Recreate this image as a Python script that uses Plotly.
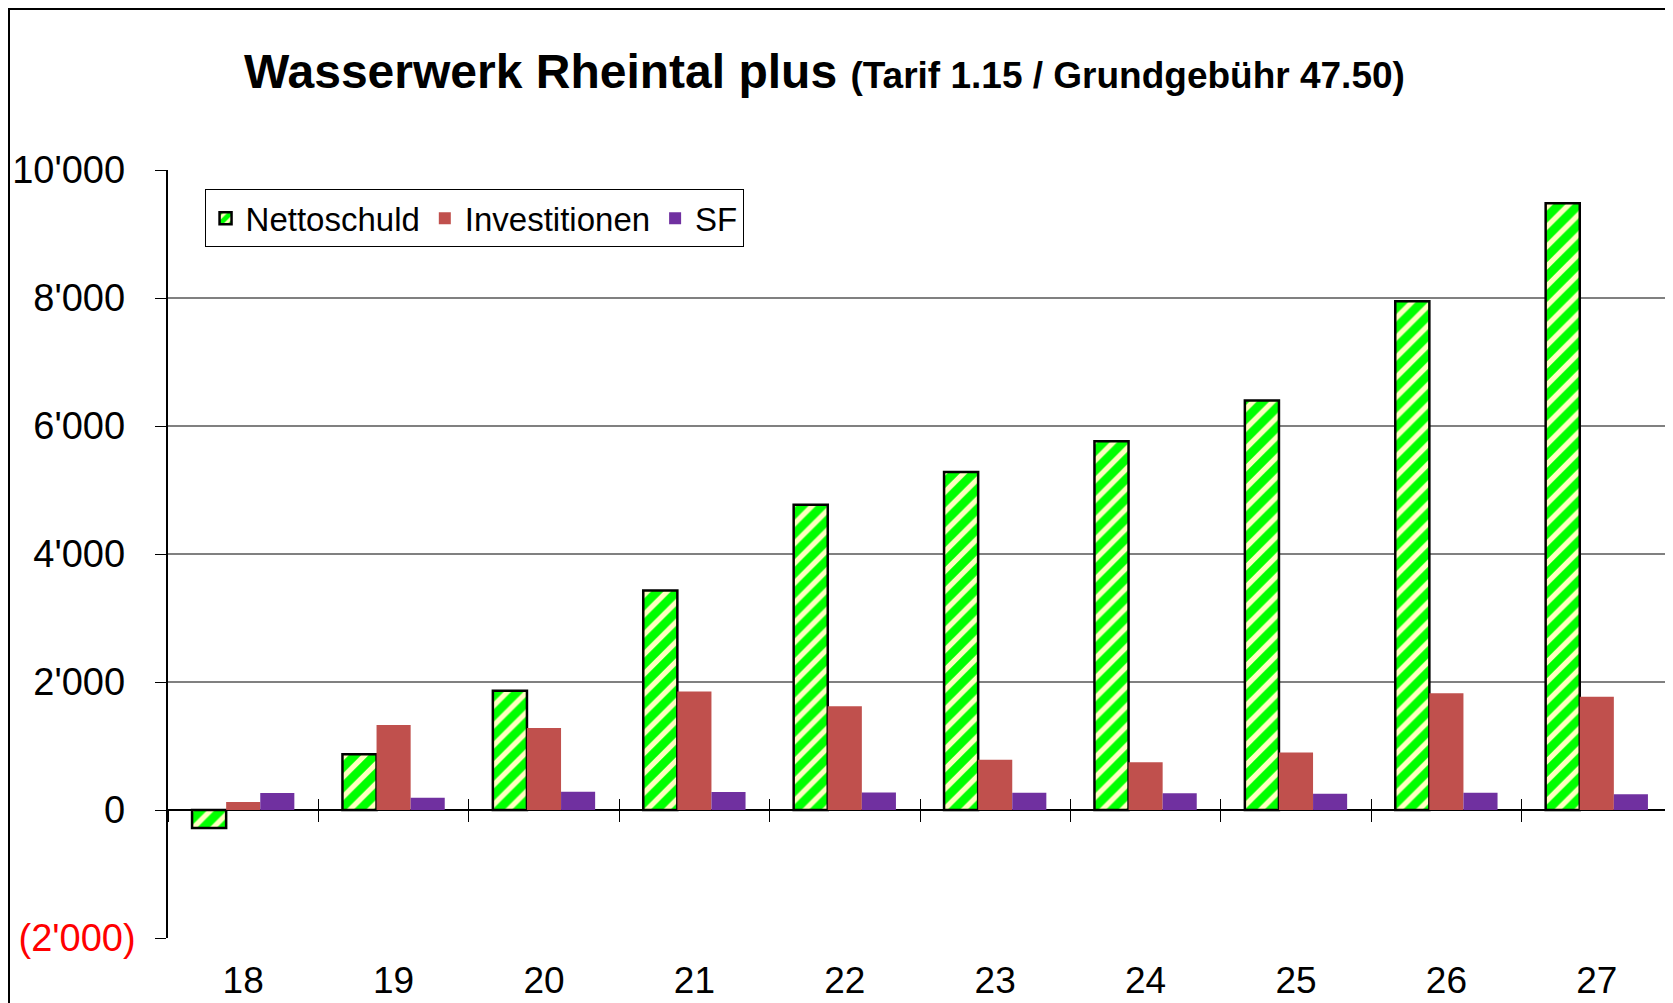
import plotly.graph_objects as go

categories = ["18", "19", "20", "21", "22", "23", "24", "25", "26", "27"]
nettoschuld = [-280, 870, 1865, 3430, 4770, 5280, 5760, 6400, 7950, 9480]
investitionen = [125, 1330, 1280, 1850, 1620, 785, 745, 900, 1825, 1770]
sf = [265, 190, 285, 280, 275, 270, 260, 255, 270, 245]

y_tickvals = [-2000, 0, 2000, 4000, 6000, 8000, 10000]
y_ticktext = ['<span style="color:#FF0000">(2\'000)</span>', "0\u00a0", "2'000\u00a0", "4'000\u00a0",
              "6'000\u00a0", "8'000\u00a0", "10'000\u00a0"]

FONT = "Liberation Sans, Arial, sans-serif"

W, H = 1665, 995          # page has an 8px body margin
L, T, PW, PH = 160, 162, 1504, 768

fig = go.Figure()
fig.add_trace(go.Bar(
    name="Nettoschuld", x=categories, y=nettoschuld,
    marker=dict(color="#FFFFC0",
                pattern=dict(shape="/", fgcolor="#00FF00", bgcolor="#FFFFC0", size=14, solidity=0.62,
                             fgopacity=1),
                line=dict(color="black", width=2.5)),
))
fig.add_trace(go.Bar(
    name="Investitionen", x=categories, y=investitionen,
    marker=dict(color="#C0504D", line=dict(width=0)),
))
fig.add_trace(go.Bar(
    name="SF", x=categories, y=sf,
    marker=dict(color="#7030A0", line=dict(width=0)),
))

zero_pos = (0 - (-2000)) / 12000

fig.update_layout(
    width=W, height=H,
    margin=dict(l=L, r=W - L - PW, t=T, b=H - T - PH, autoexpand=False),
    paper_bgcolor="white", plot_bgcolor="white",
    font=dict(family=FONT, color="black"),
    barmode="group", bargap=0.32, bargroupgap=0,
    showlegend=True,
    legend=dict(orientation="h", x=0.0243, y=0.975, xanchor="left", yanchor="top",
                bgcolor="white", bordercolor="black", borderwidth=1,
                font=dict(size=33, family=FONT)),
    title=dict(
        text="<b>Wasserwerk Rheintal plus <span style=\"font-size:37px\">(Tarif 1.15 / Grundgebühr 47.50)</span></b>",
        font=dict(size=48, family=FONT, color="black"),
        xref="container", x=236 / W, xanchor="left",
        yref="container", y=1 - 63 / H, yanchor="middle",
    ),
    xaxis=dict(type="category", showline=False, showgrid=False, ticks="",
               tickfont=dict(size=37, family=FONT), ticklabelstandoff=17),
    xaxis2=dict(type="category", overlaying="x", matches="x", anchor="free", position=zero_pos,
                side="bottom", showline=False, showgrid=False, showticklabels=False,
                ticks="outside", ticklen=11, tickwidth=1, tickcolor="black", tickson="boundaries"),
    xaxis3=dict(type="category", overlaying="x", matches="x", anchor="free", position=zero_pos,
                side="bottom", showline=False, showgrid=False, showticklabels=False,
                ticks="inside", ticklen=11, tickwidth=1, tickcolor="black", tickson="boundaries"),
    yaxis=dict(range=[-2000, 10000], tickvals=y_tickvals, ticktext=y_ticktext,
               showgrid=True, gridcolor="#808080", gridwidth=2,
               zeroline=True, zerolinecolor="black", zerolinewidth=1.5,
               showline=True, linecolor="black", linewidth=1.5,
               ticks="outside", ticklen=11, tickcolor="black", tickwidth=1,
               tickfont=dict(size=38, family=FONT), ticklabelstandoff=12),
)

# invisible traces so the tick-only axes render
fig.add_trace(go.Bar(x=categories, y=[None] * len(categories), xaxis="x2", showlegend=False, hoverinfo="skip"))
fig.add_trace(go.Bar(x=categories, y=[None] * len(categories), xaxis="x3", showlegend=False, hoverinfo="skip"))

# right border of plot area
fig.add_shape(type="line", xref="paper", yref="paper", x0=1, x1=1, y0=0, y1=1,
              line=dict(color="#808080", width=2))
# outer chart border
fig.add_shape(type="rect", xref="paper", yref="paper",
              x0=(1 - L) / PW, x1=1.05, y0=-0.2, y1=1 + (T - 1) / PH,
              line=dict(color="black", width=2), fillcolor="rgba(0,0,0,0)", layer="below")

fig.write_html("out.html")
